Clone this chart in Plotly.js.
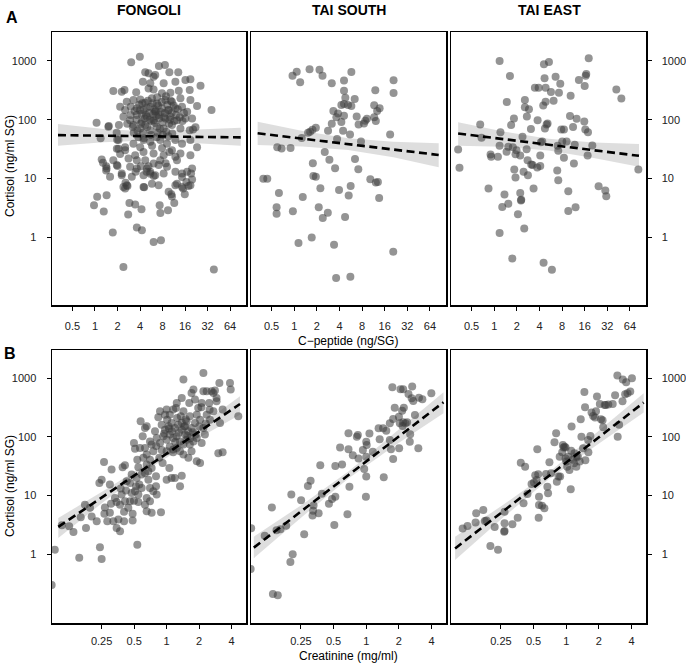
<!DOCTYPE html>
<html>
<head>
<meta charset="utf-8">
<script src="https://cdn.plot.ly/plotly-3.0.1.min.js"></script>
<style>html,body{margin:0;padding:0;background:#fff;}#chart{width:686px;height:666px;}</style>
</head>
<body>
<div id="chart"></div>
<script>
// ---------- DATA: panel A (C-peptide ng/SG vs Cortisol ng/ml SG) ----------
const fongoliA = [
[3.05,949],[3.98,1186],[7.17,822],[8.63,855],[9.88,640],[13.0,640],[4.70,640],[5.21,615],[6.40,577],[6.08,540],[4.37,444],[5.49,416],[8.29,416],[11.9,444],[16.2,474],[18.9,487],
[1.76,307],[2.28,300],[2.48,320],[3.56,292],[5.21,341],[6.08,328],[7.87,281],[10.2,288],[13.2,311],[18.5,320],[25.8,380],
[2.66,202],[3.27,216],[4.03,221],[4.70,194],[5.78,231],[6.74,189],[8.73,216],[10.7,202],[13.9,231],[18.9,216],[23.2,171],
[2.17,166],[2.53,146],[3.01,166],[3.63,156],[4.46,146],[5.49,166],[6.40,136],[7.87,156],[9.67,146],[11.9,156],[14.6,166],[17.1,136],
[2.40,112],[2.95,98],[3.63,120],[4.24,92],[4.95,112],[6.08,98],[7.10,120],[8.73,105],[10.2,112],[12.5,98],[16.2,105],[19.9,105],
[3.27,81],[4.03,71],[4.70,81],[5.49,66],[6.74,76],[8.29,71],[10.7,81],[13.9,71],[18.5,66],[22.1,74],[1.51,76],
[2.06,45],[2.53,34],[3.27,39],[4.03,34],[4.46,45],[5.49,42],[7.47,45],[9.19,39],[11.9,45],[14.6,39],[18.9,45],[23.2,34],
[2.53,30],[1.96,32],[3.45,24.8],[4.46,28],[6.08,26.5],[8.29,24.8],[10.7,30],[13.9,26.5],[18.9,24.8],
[1.76,20.4],[2.81,21.8],[3.63,20.4],[4.70,20.4],[6.08,17.9],[7.47,20.4],[11.9,23.3],[12.5,20.4],
[1.96,16.8],[1.43,14.7],[2.95,15.7],[3.63,14.7],[4.95,14.7],[7.10,16.8],[9.19,15.7],[17.1,12.9],
[1.59,10.6],[2.28,12.1],[3.11,10.6],[4.46,11.3],[5.49,12.9],[6.40,11.3],[8.29,12.1],[11.9,12.9],[14.6,12.1],[19.9,14.7],
[2.66,7.6],[2.40,7.1],[4.46,7.1],[5.78,8.1],[7.10,7.6],[12.5,8.1],[14.6,7.1],[18.9,7.6],
[3.4,140],[3.9,180],[4.2,125],[4.6,105],[4.9,160],[5.3,130],[5.7,95],[6.2,150],[6.6,115],[7.0,175],[7.6,135],[8.0,90],[8.6,130],[9.3,180],[10.0,100],[10.6,130],[11.3,175],[12.2,120],
[3.6,100],[4.1,85],[4.4,60],[5.0,75],[5.6,55],[6.3,88],[6.9,60],[7.4,70],[8.1,55],[9.0,62],[9.8,85],[3.0,120],[2.7,85],[3.3,60],[3.8,50],[4.3,190],[5.1,210],[5.9,190],[6.8,240],[7.8,200],
[8.9,250],[10.3,210],[11.5,95],[12.8,150],[13.6,110],[14.8,95],[15.5,130],[4.0,145],[4.8,120],[5.4,100],[6.0,125],[6.5,140],[7.2,105],[8.4,110],[9.5,145],[3.2,75],[3.7,65],[4.5,48],
[5.8,36],[6.7,50],[7.9,33],[9.6,52],[10.8,58],[5.2,16],[5.5,12],[6.1,11],[8.8,18],[9.9,28],[3.5,13],[4.1,16],[4.9,13],
[1.05,88.5],[0.97,3.47],[1.07,4.83],[1.23,20.9],[1.28,18.4],[1.41,16.1],[1.41,13.6],[1.31,2.71],[1.43,5.15],[1.53,77.6],[1.73,1.19],[2.00,16.3],[1.98,45.4],[2.40,0.308],
[2.28,11.3],[2.56,8.4],[2.53,6.7],[2.72,7.4],[2.78,2.41],[2.89,3.81],[3.45,3.57],[3.63,1.45],[4.19,2.97],[4.24,1.30],[4.55,7.06],[6.09,0.82],[7.63,0.88],[7.33,3.47],[7.49,2.57],
[9.47,2.86],[9.67,5.88],[10.5,5.36],[10.7,4.89],[11.5,3.81],[11.9,7.6],[15.1,6.70],[15.9,5.36],[17.8,7.4],[19.3,12.1],[19.9,9.55],[20.5,68],[36.2,146],[38.9,0.28],
[14.6,10.5],[16.7,8.7],[2.06,32],[2.17,26],[1.19,48],[1.95,60],[2.09,81]
];
const taiSouthA = [
[0.95,562],[1.08,657],[1.20,433],[1.60,721],[2.17,711],[2.38,562],[3.16,417],[4.60,463],[5.76,650],[21.0,469],[12.0,316],[21.0,285],[4.60,312],[4.79,237],[6.38,225],
[4.24,178],[4.60,185],[5.20,178],[5.76,171],[11.6,176],[13.7,156],[12.7,141],[3.32,141],[3.83,127],[3.64,110],[4.60,116],[6.78,113],[9.29,104],[8.83,96],[11.6,110],[12.2,95],
[3.16,85],[4.24,91],[7.20,83],[8.48,86],[1.94,73],[1.75,67],[1.63,62.5],[1.53,60],[2.82,65],[4.47,65],[5.53,55.6],[18.9,55.6],[1.26,48.8],[3.72,46.9],[7.74,42.3],
[0.595,33.8],[0.679,32.1],[0.894,33],[2.55,28.2],[2.94,20.8],[6.44,21.4],[1.77,18.1],[3.50,14.8],[7.13,14.3],[1.80,11.0],[1.94,10.6],[0.388,9.8],[0.438,9.8],[10.3,9.6],
[12.2,8.5],[13.0,8.7],[2.23,6.8],[5.64,7.4],[0.626,5.6],[3.95,6.3],[5.31,5.1],[1.30,4.8],[13.5,4.6],[0.583,3.2],[0.583,2.5],[0.96,2.75],[2.12,3.2],[2.80,2.6],[2.40,2.1],
[4.75,2.2],[1.14,0.79],[1.71,0.98],[3.39,0.74],[20.8,0.56],[3.61,0.20],[5.59,0.21]
];
const taiEastA = [
[0.331,31.0],[0.345,15.1],[0.651,83],[0.678,49],[0.840,6.7],[0.894,25.5],[0.912,23.3],[1.12,23.3],[1.18,1000],[1.18,35.8],[1.21,61],[1.18,1.17],[1.28,3.26],[1.37,5.3],
[1.46,28.3],[1.47,200],[1.54,34.4],[1.62,555],[1.54,3.7],[1.68,81],[1.77,34.0],[1.74,0.43],[1.83,105],[1.92,25.8],[1.85,14.1],[1.92,10.3],[1.98,30.2],[2.07,2.44],
[2.22,24.5],[2.22,5.6],[2.27,4.2],[2.29,4.3],[2.38,51],[2.46,12.9],[2.51,1.39],[2.56,162],[2.56,216],[2.70,31.4],[2.72,113],[2.78,20.4],[2.81,11.3],[2.90,151],
[3.08,69],[3.11,17.2],[3.24,16.8],[3.34,6.7],[3.48,351],[3.74,15.3],[3.78,98],[3.90,351],[4.10,16.3],[4.10,24.5],[4.18,41.4],[4.36,42.5],[4.49,175],[4.54,0.365],
[4.59,877],[4.68,506],[4.73,71],[4.83,202],[4.83,351],[4.98,83],[5.13,86],[5.35,962],[5.69,296],[5.86,0.277],[6.17,210],[6.56,541],[6.98,35.8],[6.90,13.6],[7.12,29.4],
[7.12,9.3],[7.27,288],[7.57,410],[7.81,68],[8.47,68],[8.05,42.5],[8.47,22.4],[9.19,42.5],[9.68,6.0],[9.68,2.78],[10.2,115],[10.4,256],[11.2,75],[11.5,17.9],[11.8,37.3],
[12.1,3.2],[12.5,104],[13.4,474],[15.8,93],[16.0,374],[16.3,68],[16.5,562],[16.8,599],[17.5,24.5],[17.7,61],[18.1,1110],[20.2,36.3],[24.5,7.3],[30.1,6.2],[31.0,4.95],
[42.2,328],[49.2,230],[82.8,14.1]
];
// ---------- DATA: panel B (Creatinine mg/ml vs Cortisol ng/ml SG) ----------
const fongoliB = [
[0.092,1.20],[0.086,0.30],[0.107,3.12],[0.125,3.0],[0.137,2.41],[0.155,0.87],[0.160,4.3],[0.179,2.81],[0.175,7.0],[0.241,1.32],[0.25,0.83],[0.238,16.4],[0.25,18.7],
[0.263,37.5],[0.268,6.3],[0.265,4.9],[0.282,3.66],[0.298,15.4],[0.305,7.3],[0.309,27.8],[0.321,3.66],[0.344,7.8],[0.357,3.9],[0.344,2.81],[0.370,2.47],[0.375,13.2],
[0.383,10.4],[0.391,30.4],[0.403,3.66],[0.403,5.3],[0.411,32.9],[0.420,12.2],[0.411,8.0],[0.458,8.0],[0.484,4.9],[0.484,3.75],[0.498,8.2],[0.520,14.4],[0.535,1.46],
[0.547,7.8],[0.558,15.4],[0.509,63],[0.498,79],[0.535,41],[0.547,30.4],[0.574,185],[0.600,103],[0.630,142],[0.653,5.4],[0.653,152],[0.653,50],[0.677,18.7],[0.701,13.5],
[0.726,5.1],[0.726,74],[0.701,84],[0.797,21.4],[0.797,14.4],[0.808,96],[0.837,216],[0.886,5.2],[0.855,44],[0.965,240],[1.01,197],[0.918,36],[1.0,18.7],[1.06,29.6],
[1.11,20.0],[1.19,20.0],[1.33,14.4],[1.22,312],[1.38,21.9],[1.35,225],[1.43,949],[1.43,274],[1.48,152],[1.62,380],[1.70,562],[1.77,641],[1.83,433],[1.90,38.5],
[2.04,36],[2.11,79],[2.19,1233],[2.19,600],[2.26,110],[2.35,600],[2.48,380],[2.61,600],[2.71,562],[2.80,617],[2.90,405],[2.90,462],[3.01,53],[3.12,173],[3.30,55],
[3.30,293],[3.08,832],[3.86,832],[3.92,641],[4.61,225],
[0.899,162],[0.965,133],[1.04,152],[1.11,173],[1.19,142],[1.28,162],[1.38,133],[1.48,110],[1.59,125],[1.70,142],[0.931,103],[1.0,90],[1.07,110],[1.15,96],[1.24,103],
[1.33,84],[1.43,74],[1.53,90],[1.64,74],[1.77,84],[1.90,96],[1.07,69],[1.15,61],[1.24,65],[1.33,57],[1.0,57],[1.43,50],[1.59,44],[1.70,57],[0.868,79],[1.90,240],
[2.04,197],[2.19,142],[2.35,240],[2.52,197],[2.71,274],[1.96,312],[1.64,225],[1.53,185],[1.83,173],[2.11,380],[1.38,462],[1.24,380],[1.15,293],[1.07,240],[1.0,293],
[0.868,274],[0.780,125],[0.752,57],[0.701,41],[0.630,65],[0.608,44],[0.566,65],[0.653,33.8],[0.726,29.6],[0.587,22.8],[0.630,24.3],[0.677,26.0],[0.527,20.0],[0.474,22.8],
[0.458,16.4],[0.426,17.5],[0.587,13.5],[0.653,9.1],[0.701,8.0],[0.630,7.0],[0.752,11.9],[0.808,10.4],[0.509,11.9],[0.474,11.1],[0.547,10.4],[0.370,7.0],[0.332,9.1],
[0.441,6.2],[0.298,5.1],[0.225,3.66],[0.202,4.4],[0.195,6.2],
[1.12,125],[1.3,118],[1.45,150],[1.55,105],[1.2,82],[1.05,140],[1.65,95],[1.38,175],[0.95,115],[1.5,200],[1.25,210],[1.75,120],[1.85,110],[2.0,150],[2.3,170],[2.5,290],
[2.1,320],[1.15,55],[0.9,60],[0.8,70]
];
const taiSouthB = [
[1.74,703],[2.07,650],[2.19,650],[2.65,721],[2.45,541],[2.62,456],[2.71,411],[3.06,468],[3.29,438],[3.98,555],[1.83,316],[2.22,316],[2.14,281],[2.0,222],[1.77,203],
[1.65,171],[2.04,171],[2.19,178],[2.30,171],[2.38,178],[2.16,154],[2.81,237],[1.53,127],[1.30,141],[1.43,141],[1.33,91],[1.65,89],[2.01,64],[2.54,111],[2.52,83],
[3.02,64],[1.69,62],[1.77,42],[0.686,116],[0.837,108],[0.819,101],[1.07,114],[1.0,83],[1.01,73],[0.931,60],[0.752,49],[0.849,43],[1.0,46],[1.15,56],[0.958,28.5],
[1.0,21.1],[1.45,20.5],[0.574,66],[0.686,62],[0.519,32],[0.599,34],[0.377,33],[0.307,18.0],[0.290,14.6],[0.204,10.5],[0.251,8.3],[0.390,10.8],[0.484,8.8],[0.519,9.6],
[0.453,7.3],[0.700,14.1],[0.993,9.6],[0.327,6.8],[0.324,5.5],[0.320,4.6],[0.364,5.0],[0.671,4.8],[0.508,3.16],[0.268,2.19],[0.183,3.08],[0.162,2.67],[0.149,2.56],
[0.135,6.3],[0.116,2.08],[0.087,2.78],[0.210,1.0],[0.200,0.74],[0.138,0.21],[0.153,0.20],[0.086,0.56]
];
const taiEastB = [
[0.111,2.74],[0.123,3.04],[0.148,5.0],[0.172,5.7],[0.146,3.47],[0.178,3.70],[0.184,3.75],[0.200,1.39],[0.235,1.19],[0.219,2.92],[0.270,5.3],[0.270,3.37],[0.270,2.50],
[0.268,2.43],[0.319,3.24],[0.357,4.2],[0.381,36.5],[0.418,31.2],[0.404,7.4],[0.439,10.7],[0.479,15.8],[0.504,16.7],[0.541,62],[0.518,22.2],[0.552,23.1],[0.533,18.5],
[0.561,9.6],[0.561,6.9],[0.557,4.2],[0.598,6.7],[0.629,6.1],[0.651,23.4],[0.670,14.2],[0.680,11.0],[0.700,37],[0.725,24],[0.779,81],[0.807,116],[0.819,17.3],[0.849,21.1],
[0.879,21.1],[0.931,73],[0.945,66],[0.918,55],[0.965,68],[0.986,43],[1.0,38],[1.02,31.2],[1.04,46],[1.10,12.8],[1.07,27.4],[1.11,58],[1.12,150],[1.15,41],[1.18,35.6],
[1.19,53],[1.24,31.2],[1.28,46],[1.36,200],[1.38,101],[1.43,64],[1.47,585],[1.49,320],[1.59,89],[1.60,55],[1.67,104],[1.71,260],[1.77,228],[1.84,214],[1.88,274],
[1.92,487],[2.04,366],[2.09,200],[2.16,192],[2.19,146],[2.26,351],[2.31,351],[2.44,356],[2.68,366],[2.82,513],[2.96,1110],[3.32,949],[3.57,855],[2.98,101],[3.07,162],
[3.30,406],[3.49,533],[3.67,555],[3.89,593],[4.03,1000],[0.986,66],[1.24,46],[1.33,38],[0.87,46],[1.50,40]
];
// ---------- Fitted lines with confidence bands ----------
const fitFongoliA = {x:[0.32,1.3,5.3,22,89], y:[54.5,53.5,52.4,51,49.8], lo:[36,41,44,40,35.8], hi:[84,69,63,67,73]};
const fitTaiSouthA = {x:[0.326,1.30,5.22,20.9,83.7], y:[58.6,47.4,38.3,30.9,25.0], lo:[37,35.0,30.4,22.8,15.5], hi:[92.5,64.2,48.3,41.9,39.6]};
const fitTaiEastA = {x:[0.331,1.32,5.29,21.1,84.5], y:[58,46.6,37.6,30.2,24.2], lo:[35.8,34.4,29.9,22.3,15.7], hi:[90,63.1,47.3,40.9,38.3]};
const fitFongoliB = {x:[0.0992,0.261,0.689,1.82,4.78], y:[2.93,9.8,32.7,109,365], lo:[1.9,7.9,29.1,88,240], hi:[4.16,12.1,36.7,135,493]};
const fitTaiSouthB = {x:[0.092,0.252,0.689,1.88,5.15], y:[1.30,5.4,22.6,94,390], lo:[0.855,4.24,19.7,73.8,253], hi:[2.0,6.88,25.9,119.8,577]};
const fitTaiEastB = {x:[0.0946,0.257,0.700,1.90,5.17], y:[1.26,5.28,22.1,92.5,385], lo:[0.80,4.12,19.3,72.3,260], hi:[2.0,6.77,25.3,118,555]};

const siteNames = ['FONGOLI','TAI SOUTH','TAI EAST'];
const cpepTicks = [0.5,1,2,4,8,16,32,64];
const creaTicks = [0.25,0.5,1,2,4];
const cortTicks = [1,10,100,1000];

// ---------- build ----------
const panels = [
  {pts:fongoliA, fit:fitFongoliA, xa:'x', ya:'y'},
  {pts:taiSouthA, fit:fitTaiSouthA, xa:'x2', ya:'y2'},
  {pts:taiEastA, fit:fitTaiEastA, xa:'x3', ya:'y3'},
  {pts:fongoliB, fit:fitFongoliB, xa:'x4', ya:'y4'},
  {pts:taiSouthB, fit:fitTaiSouthB, xa:'x5', ya:'y5'},
  {pts:taiEastB, fit:fitTaiEastB, xa:'x6', ya:'y6'}
];
const traces = [];
panels.forEach(p => {
  const f = p.fit;
  traces.push({type:'scatter', mode:'lines', xaxis:p.xa, yaxis:p.ya,
    x: f.x.concat(f.x.slice().reverse()), y: f.hi.concat(f.lo.slice().reverse()),
    fill:'toself', fillcolor:'rgba(200,200,200,0.6)', line:{width:0}, hoverinfo:'skip', showlegend:false});
  traces.push({type:'scatter', mode:'markers', xaxis:p.xa, yaxis:p.ya,
    x: p.pts.map(d=>d[0]), y: p.pts.map(d=>d[1]),
    marker:{size:8, color:'rgba(60,60,60,0.55)', line:{width:0}}, showlegend:false});
  traces.push({type:'scatter', mode:'lines', xaxis:p.xa, yaxis:p.ya,
    x: f.x, y: f.y, line:{color:'black', width:2.6, dash:'8px,4.5px'}, showlegend:false});
});

const W=686, H=666;
const px = v => v/W, py = v => 1 - v/H;
const tickFont = {family:'Liberation Sans, Arial, sans-serif', size:11, color:'#222'};
const baseAx = {type:'log', showgrid:false, zeroline:false, showline:true, linecolor:'black', linewidth:1.5,
  mirror:true, ticks:'outside', ticklen:4, tickwidth:1, tickcolor:'black', tickfont:tickFont, fixedrange:true};
const xDom = [[px(52),px(246)],[px(251),px(446)],[px(451),px(646)]];
const yTop = [py(305), py(32)], yBot = [py(623), py(350)];
const topXRange = [-0.575, 2.02], botXRange = [-1.062, 0.735];
const topYRange = [-1.159, 3.494], botYRange = [-1.171, 3.482];

const layout = {width:W, height:H, margin:{l:0,r:0,t:0,b:0}, paper_bgcolor:'white', plot_bgcolor:'white', showlegend:false,
  font:{family:'Liberation Sans, Arial, sans-serif', color:'black'}, annotations:[]};
for (let i=0;i<6;i++){
  const row = i<3 ? 0 : 1, col = i%3;
  const xk = i===0 ? 'xaxis' : 'xaxis'+(i+1);
  const yk = i===0 ? 'yaxis' : 'yaxis'+(i+1);
  const yId = i===0 ? 'y' : 'y'+(i+1);
  const xId = i===0 ? 'x' : 'x'+(i+1);
  layout[xk] = Object.assign({}, baseAx, {domain:xDom[col], anchor:yId,
    range: row===0 ? topXRange : botXRange,
    tickvals: row===0 ? cpepTicks : creaTicks, ticktext: (row===0 ? cpepTicks : creaTicks).map(String),
    ticklabelstandoff: row===0 ? 6 : 3});
  const yax = Object.assign({}, baseAx, {domain: row===0 ? yTop : yBot, anchor:xId,
    range: row===0 ? topYRange : botYRange,
    tickvals: cortTicks, ticktext: cortTicks.map(String), ticklabelstandoff:8});
  if (col===1){ yax.showticklabels=false; yax.ticks=''; }
  if (col===2){ yax.side='right'; }
  layout[yk] = yax;
}
const ann = (text,x,y,size,bold,extra) => Object.assign({text: bold?'<b>'+text+'</b>':text, x:px(x), y:py(y), xref:'paper', yref:'paper',
  showarrow:false, xanchor:'center', yanchor:'middle', font:{size:size, color:'black', family:'Liberation Sans, Arial, sans-serif'}}, extra||{});
layout.annotations.push(ann('A',11.5,17,16,true));
layout.annotations.push(ann('B',10,353,16,true));
layout.annotations.push(ann(siteNames[0],149,10,14,true));
layout.annotations.push(ann(siteNames[1],349,10,14,true));
layout.annotations.push(ann(siteNames[2],549,10,14,true));
layout.annotations.push(ann('C\u2212peptide (ng/SG)',348,341,12,false));
layout.annotations.push(ann('Creatinine (mg/ml)',348,656,12,false));
layout.annotations.push(ann('Cortisol (ng/ml SG)',10,166,12,false,{textangle:-90}));
layout.annotations.push(ann('Cortisol (ng/ml SG)',10,486,12,false,{textangle:-90}));

Plotly.newPlot('chart', traces, layout, {displayModeBar:false, staticPlot:true});
</script>
</body>
</html>
